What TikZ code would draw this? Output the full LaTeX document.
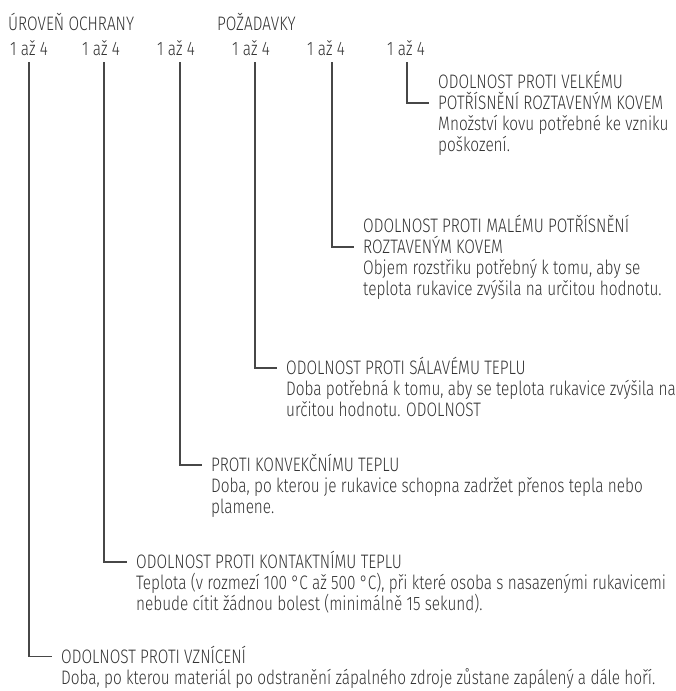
\documentclass[tikz,border=0pt]{standalone}
\usepackage{fontspec}
\setmainfont{Fira Sans Light}
\usepackage{graphicx}
\definecolor{txt}{HTML}{333333}
\definecolor{ln}{HTML}{474747}
\newsavebox\measbox
\newcommand\cx[1]{\scalebox{\sxf}[1]{#1}}
\begin{document}
\sbox\measbox{\fontsize{19.5}{21}\selectfont Doba, po kterou materiál po odstranění zápalného zdroje zůstane zapálený a dále hoří.}%
\pgfmathsetmacro\sxf{594/\the\wd\measbox}%
\begin{tikzpicture}[x=1pt,y=-1pt]
\tikzset{
  lbl/.style={inner sep=0pt, anchor=base west, text=txt, font=\fontsize{19.5}{21}\selectfont, text height=13.5pt, text depth=0pt},
  conn/.style={draw=ln, line width=1.25pt},
}
\useasboundingbox (0,0) rectangle (675,691);
% header
\node[lbl] (hA) at (8,30) {\cx{ÚROVEŇ OCHRANY}};
\node[lbl] (hB) at (217,30) {\cx{POŽADAVKY}};
\node[lbl] (r1) at (10,55) {\cx{1 až 4}};
\node[lbl] (r2) at (82,55) {\cx{1 až 4}};
\node[lbl] (r3) at (157,55) {\cx{1 až 4}};
\node[lbl] (r4) at (232,55) {\cx{1 až 4}};
\node[lbl] (r5) at (307,55) {\cx{1 až 4}};
\node[lbl] (r6) at (387,55) {\cx{1 až 4}};
% tops of connectors
\coordinate (t1) at (29,62);
\coordinate (t2) at (104,62);
\coordinate (t3) at (180,62);
\coordinate (t4) at (255,62);
\coordinate (t5) at (332,62);
\coordinate (t6) at (407,62);
% block 6
\node[lbl] (b6a) at (438,88.75) {\cx{ODOLNOST PROTI VELKÉMU}};
\node[lbl] (b6b) at (438,109.75) {\cx{POTŘÍSNĚNÍ ROZTAVENÝM KOVEM}};
\node[lbl] (b6c) at (438,130.75) {\cx{Množství kovu potřebné ke vzniku}};
\node[lbl] (b6d) at (438,151.75) {\cx{poškození.}};
% block 5
\node[lbl] (b5a) at (363,232.75) {\cx{ODOLNOST PROTI MALÉMU POTŘÍSNĚNÍ}};
\node[lbl] (b5b) at (363,253.75) {\cx{ROZTAVENÝM KOVEM}};
\node[lbl] (b5c) at (363,274.75) {\cx{Objem rozstřiku potřebný k tomu, aby se}};
\node[lbl] (b5d) at (363,295.75) {\cx{teplota rukavice zvýšila na určitou hodnotu.}};
% block 4
\node[lbl] (b4a) at (286,374.75) {\cx{ODOLNOST PROTI SÁLAVÉMU TEPLU}};
\node[lbl] (b4b) at (286,395.75) {\cx{Doba potřebná k tomu, aby se teplota rukavice zvýšila na}};
\node[lbl] (b4c) at (286,416.75) {\cx{určitou hodnotu. ODOLNOST}};
% block 3
\node[lbl] (b3a) at (211,471.75) {\cx{PROTI KONVEKČNÍMU TEPLU}};
\node[lbl] (b3b) at (211,492.75) {\cx{Doba, po kterou je rukavice schopna zadržet přenos tepla nebo}};
\node[lbl] (b3c) at (211,513.75) {\cx{plamene.}};
% block 2
\node[lbl] (b2a) at (136,568.75) {\cx{ODOLNOST PROTI KONTAKTNÍMU TEPLU}};
\node[lbl] (b2b) at (136,589.75) {\cx{Teplota (v rozmezí 100 °C až 500 °C), při které osoba s nasazenými rukavicemi}};
\node[lbl] (b2c) at (136,610.75) {\cx{nebude cítit žádnou bolest (minimálně 15 sekund).}};
% block 1
\node[lbl] (b1a) at (61,663.25) {\cx{ODOLNOST PROTI VZNÍCENÍ}};
\node[lbl] (b1b) at (61,684.25) {\cx{Doba, po kterou materiál po odstranění zápalného zdroje zůstane zapálený a dále hoří.}};
% connectors
\draw[conn] (t6) |- ([xshift=-9pt]b6b.west);
\draw[conn] (t5) |- ([xshift=-9pt]b5b.west);
\draw[conn] (t4) |- ([xshift=-9pt]b4a.west);
\draw[conn] (t3) |- ([xshift=-9pt]b3a.west);
\draw[conn] (t2) |- ([xshift=-9pt]b2a.west);
\draw[conn] (t1) |- ([xshift=-9pt]b1a.west);
\end{tikzpicture}
\end{document}
